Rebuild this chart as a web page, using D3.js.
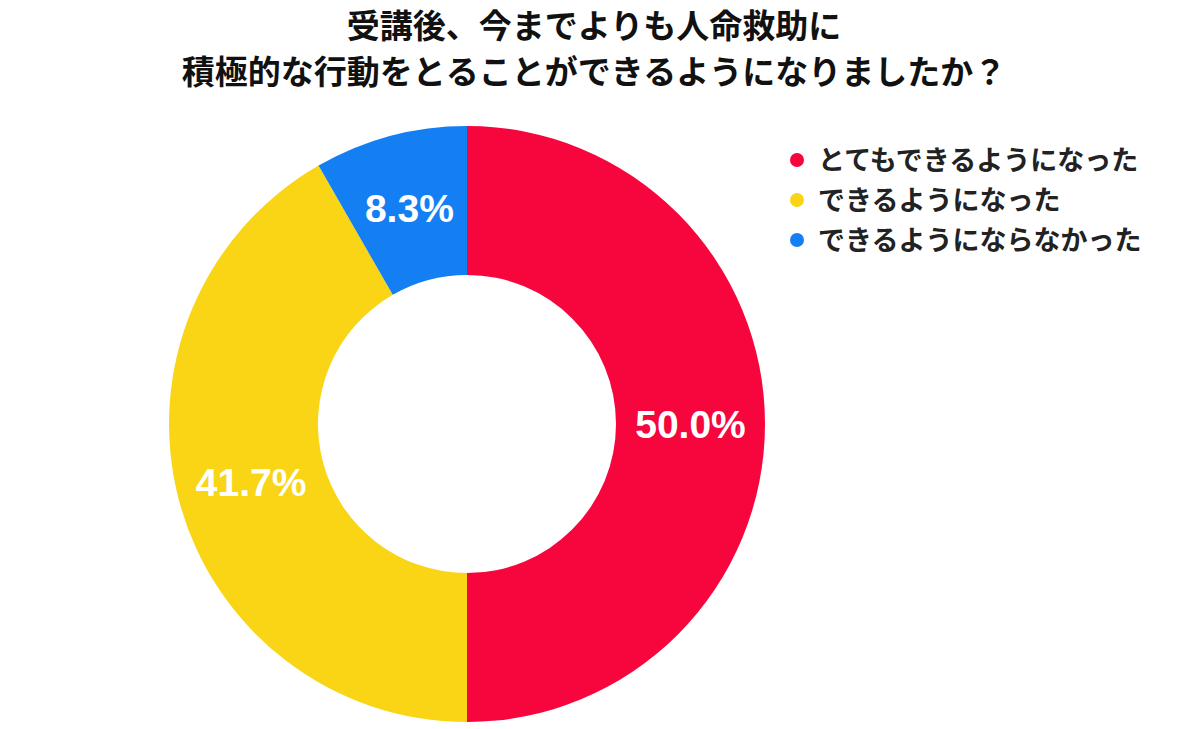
<!DOCTYPE html>
<html><head><meta charset="utf-8">
<script src="https://cdn.jsdelivr.net/npm/d3@7"></script>
<style>html,body{margin:0;padding:0;background:#fff;}</style>
</head><body>
<svg id="chart" width="1200" height="729"></svg>
<script>
const titleLines = ["受講後、今までよりも人命救助に", "積極的な行動をとることができるようになりましたか？"];
const categories = ["とてもできるようになった", "できるようになった", "できるようにならなかった"];
const values = [50.0, 41.7, 8.3];
const colors = ["#F6063D", "#F9D515", "#137FF3"];

const svg = d3.select("#chart");
const cx = 467, cy = 424, outerR = 298, innerR = 149;
const cjk = "'Noto Sans CJK JP', 'Noto Sans', sans-serif";

svg.append("g").selectAll("text").data(titleLines).join("text")
  .attr("x", 594).attr("y", (d, i) => 38 + i * 46)
  .attr("text-anchor", "middle")
  .attr("font-family", cjk).attr("font-weight", 700).attr("font-size", 33)
  .attr("fill", "#111").text(d => d);

const data = categories.map((c, i) => ({ c, v: values[i], color: colors[i] }));
const pie = d3.pie().value(d => d.v).sort(null);
const arc = d3.arc().innerRadius(innerR).outerRadius(outerR);
const labelArc = d3.arc().innerRadius((innerR + outerR) / 2).outerRadius((innerR + outerR) / 2);
const arcs = pie(data);

const g = svg.append("g").attr("transform", `translate(${cx},${cy})`);
g.selectAll("path").data(arcs).join("path")
  .attr("d", arc).attr("fill", d => d.data.color);
g.selectAll("text").data(arcs).join("text")
  .attr("transform", d => `translate(${labelArc.centroid(d)})`)
  .attr("text-anchor", "middle").attr("dy", "0.36em")
  .attr("font-family", "'Liberation Sans', Arial, sans-serif")
  .attr("font-weight", 700).attr("font-size", 39).attr("fill", "#fff")
  .text(d => d.data.v.toFixed(1) + "%");

const lg = svg.append("g");
const items = lg.selectAll("g").data(data).join("g")
  .attr("transform", (d, i) => `translate(797,${160 + i * 40})`);
items.append("circle").attr("r", 7).attr("fill", d => d.color);
items.append("text").attr("x", 21).attr("dy", "0.36em")
  .attr("font-family", cjk).attr("font-weight", 700).attr("font-size", 27)
  .attr("fill", "#222").text(d => d.c);
</script>
</body></html>
